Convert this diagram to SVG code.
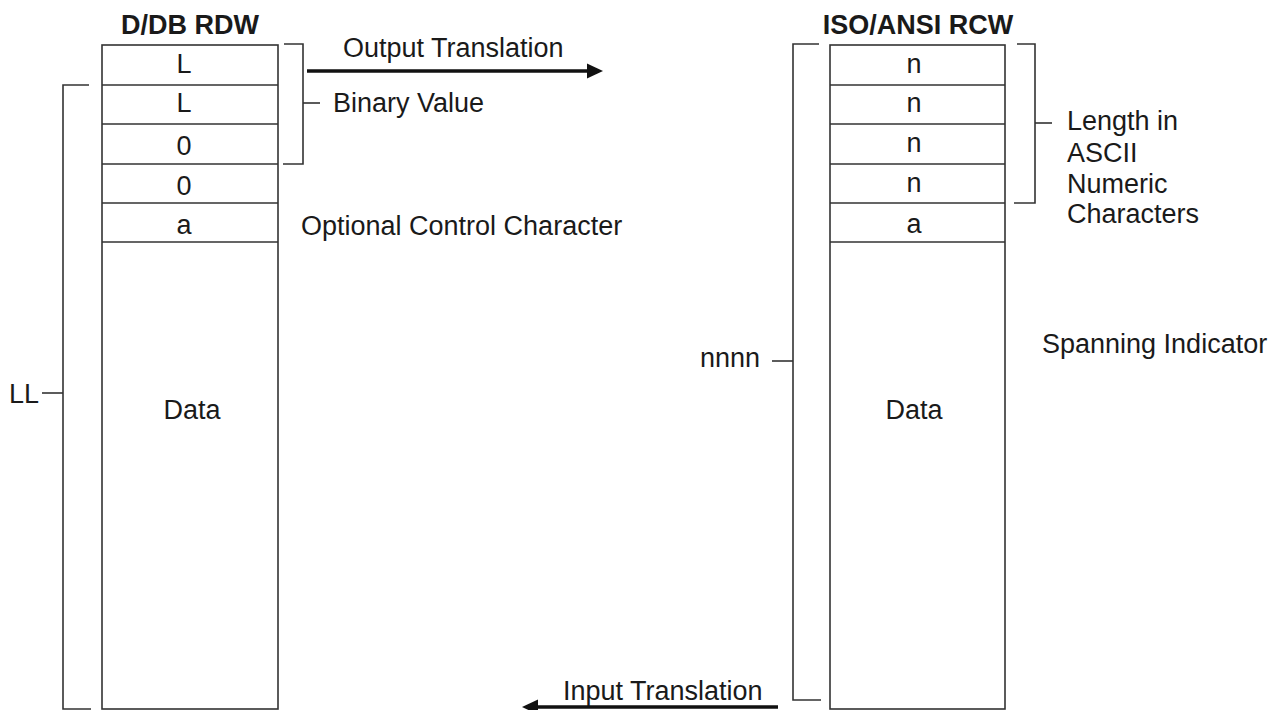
<svg xmlns="http://www.w3.org/2000/svg" width="1286" height="710" viewBox="0 0 1286 710">
<style>
.box{fill:#fff;stroke:#333;stroke-width:1.6}
.ln{fill:none;stroke:#333;stroke-width:1.6}
.br{fill:none;stroke:#333;stroke-width:1.6}
.arr{fill:none;stroke:#111;stroke-width:3.5}
.head{fill:#111}
text{font-family:"Liberation Sans",Arial,sans-serif;font-size:27px;fill:#1a1a1a}
.title{font-weight:bold}
.c{text-anchor:middle}
</style>
<rect width="1286" height="710" fill="#fff"/>
<g id="ddb-rdw">
  <text class="title c" x="190" y="34">D/DB RDW</text>
  <rect class="box" x="102" y="45" width="176" height="664"/>
  <path class="ln" d="M102,85H278M102,124H278M102,164H278M102,203H278M102,242H278"/>
  <text class="c" x="184" y="73">L</text>
  <text class="c" x="184" y="112">L</text>
  <text class="c" x="184" y="155">0</text>
  <text class="c" x="184" y="195">0</text>
  <text class="c" x="184" y="234">a</text>
  <text class="c" x="192" y="419">Data</text>
</g>
<g id="iso-ansi-rcw">
  <text class="title c" x="918" y="34">ISO/ANSI RCW</text>
  <rect class="box" x="830" y="45" width="175" height="664"/>
  <path class="ln" d="M830,85H1005M830,124H1005M830,164H1005M830,203H1005M830,242H1005"/>
  <text class="c" x="914" y="73">n</text>
  <text class="c" x="914" y="112">n</text>
  <text class="c" x="914" y="152">n</text>
  <text class="c" x="914" y="192">n</text>
  <text class="c" x="914" y="233">a</text>
  <text class="c" x="914" y="419">Data</text>
</g>
<g id="labels">
  <text x="9" y="403">LL</text>
  <text x="333" y="112">Binary Value</text>
  <text x="301" y="235">Optional Control Character</text>
  <text x="1067" y="130">Length in</text>
  <text x="1067" y="162">ASCII</text>
  <text x="1067" y="193">Numeric</text>
  <text x="1067" y="223">Characters</text>
  <text x="1042" y="353">Spanning Indicator</text>
  <text x="700" y="367">nnnn</text>
  <text x="343" y="57">Output Translation</text>
  <text x="563" y="700">Input Translation</text>
</g>
<g id="connectors">
  <path class="br" d="M89,85H63V709H91"/>
  <path class="br" d="M42,393H63"/>
  <path class="br" d="M284,44H303V164H283"/>
  <path class="br" d="M303,103H320"/>
  <path class="br" d="M819,44H793V700H821"/>
  <path class="br" d="M772,361H793"/>
  <path class="br" d="M1017,44H1035V203H1014"/>
  <path class="br" d="M1035,123H1052"/>
  <path class="arr" d="M307,71H590"/>
  <polygon class="head" points="603,71 587,63.5 587,78.5"/>
  <path class="arr" d="M778,707H535"/>
  <polygon class="head" points="522,707 538,699.5 538,714.5"/>
</g>
</svg>
